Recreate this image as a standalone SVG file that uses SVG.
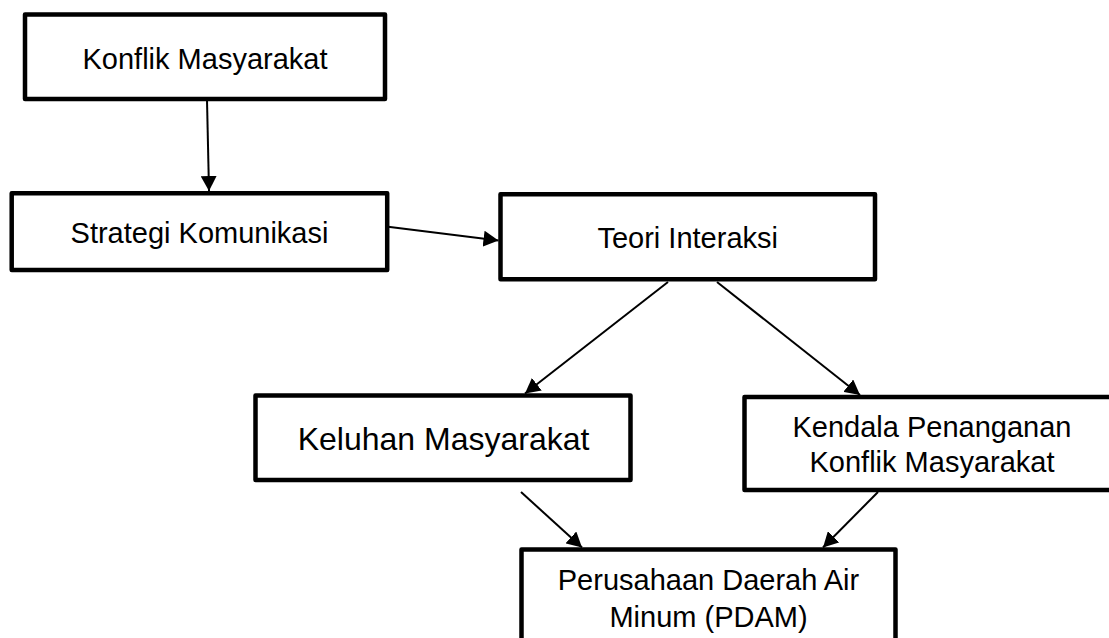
<svg xmlns="http://www.w3.org/2000/svg" width="1109" height="638" viewBox="0 0 1109 638">
  <style>
    .box { fill: #ffffff; stroke: #000000; stroke-width: 4.5; stroke-linejoin: round; }
    .lbl { font-family: "Liberation Sans", Arial, sans-serif; font-size: 29px; fill: #000000; text-anchor: middle; }
    .big { font-size: 32px; }
    .conn { stroke: #000000; stroke-width: 2; fill: none; marker-end: url(#arrow); }
  </style>
  <defs>
    <marker id="arrow" markerUnits="userSpaceOnUse" markerWidth="15" markerHeight="16" viewBox="0 -8 15 16" refX="15" refY="0" orient="auto">
      <path d="M0,-8 L15,0 L0,8 z" fill="#000000"/>
    </marker>
  </defs>
  <rect width="1109" height="638" fill="#ffffff"/>

  <g id="connectors">
    <line class="conn" x1="207" y1="100" x2="209" y2="191"/>
    <line class="conn" x1="388" y1="226.7" x2="498.5" y2="240.5"/>
    <line class="conn" x1="668" y1="282" x2="525" y2="393.5"/>
    <line class="conn" x1="717" y1="282" x2="860" y2="395"/>
    <line class="conn" x1="521" y1="492" x2="582" y2="547.5"/>
    <line class="conn" x1="878" y1="492" x2="823" y2="547.5"/>
  </g>

  <g id="konflik-masyarakat">
    <rect class="box" x="25" y="14.5" width="360" height="84.5"/>
    <text class="lbl" x="205" y="69">Konflik Masyarakat</text>
  </g>

  <g id="strategi-komunikasi">
    <rect class="box" x="11.7" y="193.3" width="375.5" height="76.7"/>
    <text class="lbl" x="199.5" y="243">Strategi Komunikasi</text>
  </g>

  <g id="teori-interaksi">
    <rect class="box" x="500.5" y="194.2" width="374.5" height="85"/>
    <text class="lbl" x="687.7" y="248">Teori Interaksi</text>
  </g>

  <g id="keluhan-masyarakat">
    <rect class="box" x="255.5" y="395.5" width="375" height="84.5"/>
    <text class="lbl big" x="443.5" y="450">Keluhan Masyarakat</text>
  </g>

  <g id="kendala-penanganan">
    <rect class="box" x="744.5" y="397" width="375" height="93"/>
    <text class="lbl" x="932" y="437">Kendala Penanganan</text>
    <text class="lbl" x="932" y="471.5">Konflik Masyarakat</text>
  </g>

  <g id="pdam">
    <rect class="box" x="521.5" y="549.5" width="374" height="110"/>
    <text class="lbl" x="708.5" y="590">Perusahaan Daerah Air</text>
    <text class="lbl" x="708.5" y="627">Minum (PDAM)</text>
  </g>
</svg>
